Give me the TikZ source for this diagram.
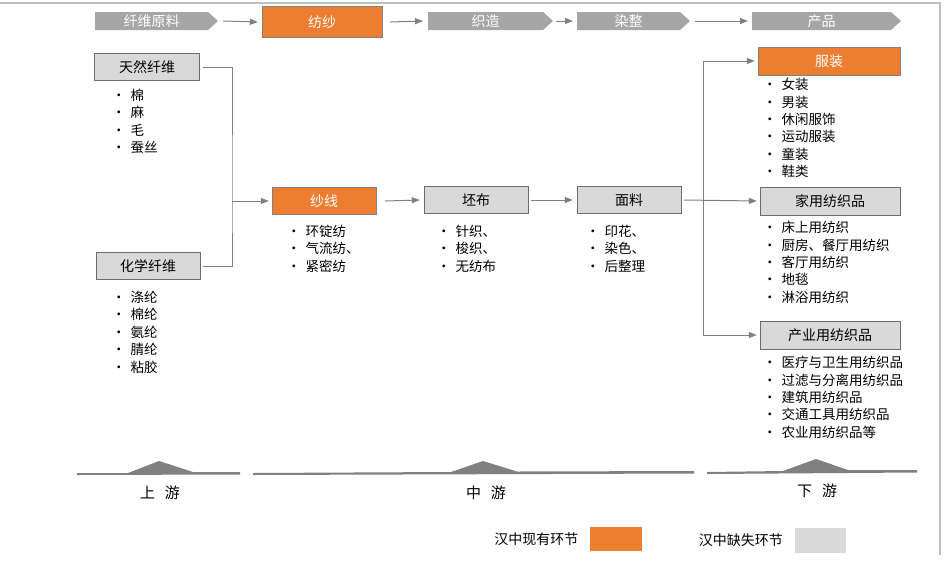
\documentclass[tikz,border=0pt]{standalone}
\usepackage{fontspec}
\setmainfont{Noto Sans CJK SC}
\usetikzlibrary{arrows.meta}
\definecolor{hzorange}{HTML}{ED7D31}
\definecolor{hzgray}{HTML}{D9D9D9}
\definecolor{hzchev}{HTML}{A6A6A6}
\tikzset{
  have/.style={draw=hzgray!60!black,fill=hzorange,text=white,minimum height=27pt,inner sep=0pt,font=\fontsize{14}{16}\selectfont},
  lack/.style={draw=hzgray!50!black,fill=hzgray,text=black,minimum height=27pt,inner sep=0pt,font=\fontsize{14}{16}\selectfont},
  link/.style={draw=black!50,line width=1pt,-{Triangle[length=8pt,width=6pt]}},
  items/.style={anchor=north west,align=left,font=\fontsize{13.5}{17.4}\selectfont,inner sep=0pt},
}
\newcommand{\chevron}[4]{% name, x left, x right, text
  \fill[hzchev] (#2,12) -- (#3,12) -- (#3+10,21) -- (#3,30) -- (#2,30) -- cycle;
  \coordinate (#1w) at (#2,21);
  \coordinate (#1e) at (#3+10,21);
  \node[text=white,font=\fontsize{14}{16}\selectfont] (#1) at ({(#2+#3)/2},21) {#4};}
\begin{document}
\begin{tikzpicture}[x=1pt,y=-1pt]
			\useasboundingbox (0,0) rectangle (949,560);
			\draw[black!25,line width=1.5pt] (0,3) -- (940,3) -- (940,555);
			% top row
			\chevron{raw}{95}{208}{纤维原料}
			\node[have,minimum width=120pt,minimum height=31pt] (spin) at (322,22) {纺纱};
			\chevron{weave}{428}{543}{织造}
			\chevron{dye}{577}{680}{染整}
			\chevron{prod}{752}{891}{产品}
			\draw[link] ([xshift=5pt]rawe) -- ([xshift=-4pt]spin.west);
			\draw[link] ([xshift=8pt]spin.east) -- ([xshift=-5pt]weavew);
			\draw[link] ([xshift=3pt]weavee) -- ([xshift=-4pt]dyew);
			\draw[link] ([xshift=5pt]dyee) -- ([xshift=-4pt]prodw);
			% upstream
			\node[lack,minimum width=105pt] (nat) at (147,67) {天然纤维};
			\node[lack,minimum width=104pt] (chem) at (148,266) {化学纤维};
			\node[items] (natl) at (112,89) {•\hspace{5pt}棉\\•\hspace{5pt}麻\\•\hspace{5pt}毛\\•\hspace{5pt}蚕丝};
			\node[items] (cheml) at (112,291) {•\hspace{5pt}涤纶\\•\hspace{5pt}棉纶\\•\hspace{5pt}氨纶\\•\hspace{5pt}腈纶\\•\hspace{5pt}粘胶};
			\coordinate (j) at (232,201);
			\draw[black!50,line width=1pt] ([xshift=3pt]nat.east) -| (j) |- ([xshift=3pt]chem.east);
			% midstream
			\node[have,minimum width=104pt] (yarn) at (324,201) {纱线};
			\node[lack,minimum width=104pt] (grey) at (476,200) {坯布};
			\node[lack,minimum width=104pt] (fab) at (629,200) {面料};
			\draw[link] (j) -- ([xshift=-3pt]yarn.west);
			\draw[link] ([xshift=9pt]yarn.east) -- ([xshift=-4pt]grey.west);
			\draw[link] ([xshift=3pt]grey.east) -- ([xshift=-4pt]fab.west);
			\node[items] (yarnl) at (287,225) {•\hspace{5pt}环锭纺\\•\hspace{5pt}气流纺、\\•\hspace{5pt}紧密纺};
			\node[items] (greyl) at (437,225) {•\hspace{5pt}针织、\\•\hspace{5pt}梭织、\\•\hspace{5pt}无纺布};
			\node[items] (fabl) at (586,225) {•\hspace{5pt}印花、\\•\hspace{5pt}染色、\\•\hspace{5pt}后整理};
			% downstream
			\node[have,minimum width=142pt,minimum height=28pt] (cloth) at (829,61) {服装};
			\node[lack,minimum width=140pt,minimum height=28pt] (home) at (830,201) {家用纺织品};
			\node[lack,minimum width=140pt,minimum height=28pt] (ind) at (830,335) {产业用纺织品};
			\coordinate (v1) at (703,61);
			\coordinate (v2) at (703,335);
			\draw[link] (v2) |- ([xshift=-3pt]cloth.west);
			\draw[link] (v1) |- ([xshift=-3pt]ind.west);
			\draw[link] ([xshift=3pt]fab.east) -- ([xshift=-3pt]home.west);
			\node[items] (clothl) at (763,78) {•\hspace{5pt}女装\\•\hspace{5pt}男装\\•\hspace{5pt}休闲服饰\\•\hspace{5pt}运动服装\\•\hspace{5pt}童装\\•\hspace{5pt}鞋类};
			\node[items] (homel) at (763,221) {•\hspace{5pt}床上用纺织\\•\hspace{5pt}厨房、餐厅用纺织\\•\hspace{5pt}客厅用纺织\\•\hspace{5pt}地毯\\•\hspace{5pt}淋浴用纺织};
			\node[items] (indl) at (763,356) {•\hspace{5pt}医疗与卫生用纺织品\\•\hspace{5pt}过滤与分离用纺织品\\•\hspace{5pt}建筑用纺织品\\•\hspace{5pt}交通工具用纺织品\\•\hspace{5pt}农业用纺织品等};
			% stream bars
			\fill[black!50] (77,473) -- (128,473) -- (159,461) -- (193,472) -- (240,472) -- (240,474.5) -- (77,475) -- cycle;
			\fill[black!50] (253,473) -- (451,472) -- (483,461) -- (517,471.5) -- (694,471) -- (694,473.5) -- (253,475) -- cycle;
			\fill[black!50] (707,472) -- (783,471) -- (816,459) -- (848,470) -- (917,470) -- (917,472.5) -- (707,474) -- cycle;
			\node[font=\fontsize{15}{17}\selectfont] (up) at (160,493) {上\hspace{10pt}游};
			\node[font=\fontsize{15}{17}\selectfont] (mid) at (486,493) {中\hspace{10pt}游};
			\node[font=\fontsize{15}{17}\selectfont] (down) at (817,491) {下\hspace{10pt}游};
			% legend
			\node[fill=hzorange,minimum width=52pt,minimum height=24pt,inner sep=0pt] (kh) at (616,539) {};
			\node[font=\fontsize{14}{16}\selectfont,anchor=east] (khl) at ([xshift=-8pt]kh.west) {汉中现有环节};
			\node[fill=hzgray,minimum width=51pt,minimum height=25pt,inner sep=0pt] (kl) at (820,540) {};
			\node[font=\fontsize{14}{16}\selectfont,anchor=east] (kll) at ([xshift=-8pt]kl.west) {汉中缺失环节};
\end{tikzpicture}
\end{document}
